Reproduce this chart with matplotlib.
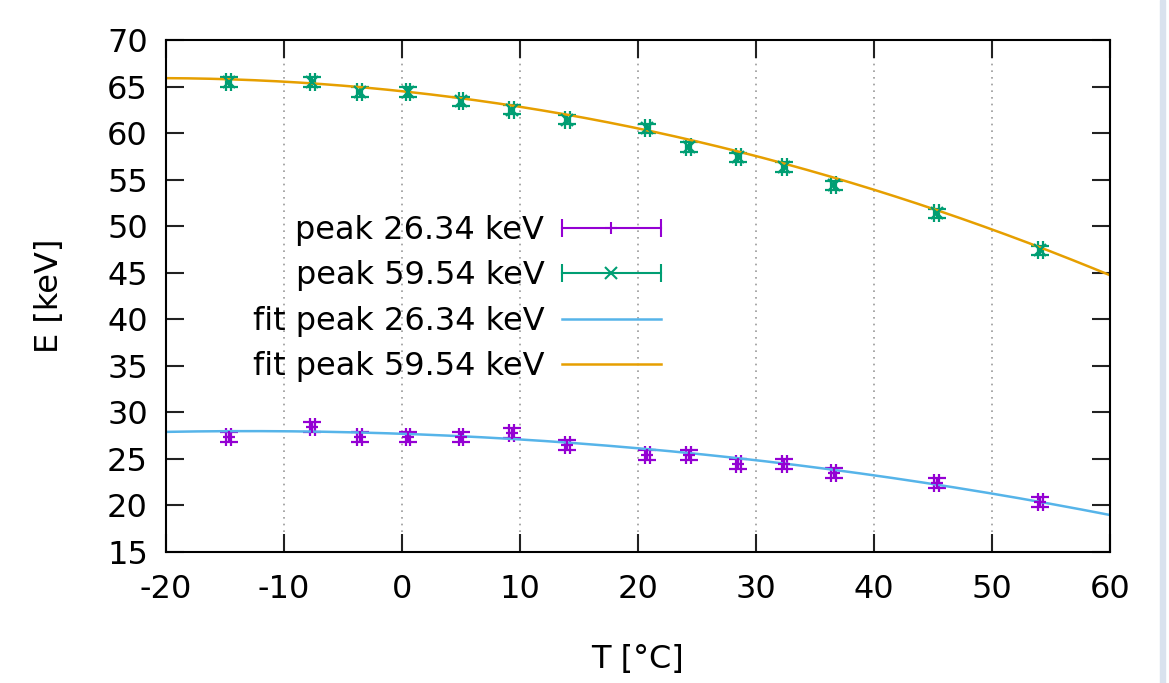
import matplotlib.pyplot as plt
import numpy as np
from matplotlib.lines import Line2D
from matplotlib.legend_handler import HandlerLine2D

plt.rcParams["axes.unicode_minus"] = False

# temperature of each measurement [deg C]
temp = [-14.7, -7.6, -3.6, 0.5, 5.0, 9.3, 14.0, 20.8, 24.3, 28.5, 32.4, 36.6, 45.3, 54.1]
# fitted peak positions [keV]
peak26 = [27.35, 28.43, 27.35, 27.35, 27.35, 27.78, 26.49, 25.42, 25.42, 24.45, 24.45, 23.49, 22.41, 20.37]
peak59 = [65.48, 65.48, 64.41, 64.41, 63.4, 62.5, 61.45, 60.5, 58.5, 57.4, 56.35, 54.4, 51.4, 47.4]
temp_err = 0.2
peak_err = 0.5

# quadratic fits E(T), highest power first
fit26 = [-0.00169, -0.044, 27.7]
fit59 = [-0.00324, -0.135, 64.5]

labels = ["peak 26.34 keV", "peak 59.54 keV", "fit peak 26.34 keV", "fit peak 59.54 keV"]

purple = "#9400d3"
green = "#009e73"
blue = "#56b4e9"
orange = "#e69f00"
fs = 23

fig = plt.figure(figsize=(11.69, 6.83), dpi=100)
ax = fig.add_axes([0.1420, 0.1918, 0.8075, 0.7496])

eb = dict(xerr=temp_err, yerr=peak_err, ms=9, mew=1.6, elinewidth=1.6,
          capsize=6.8, capthick=1.6, ls="none")
ax.errorbar(temp, peak26, fmt="+", color=purple, **eb)
ax.errorbar(temp, peak59, fmt="x", color=green, **eb)

tt = np.linspace(-20, 60, 300)
l26, = ax.plot(tt, np.polyval(fit26, tt), color=blue, lw=1.8)
l59, = ax.plot(tt, np.polyval(fit59, tt), color=orange, lw=1.8)

ax.set_xlim(-20, 60)
ax.set_ylim(15, 70)
ax.set_xticks(np.arange(-20, 61, 10))
ax.set_yticks(np.arange(15, 71, 5))
ax.grid(axis="x", color="#999999", lw=1.2, linestyle=(0, (1, 3)))
ax.tick_params(direction="in", top=True, right=True, length=13, width=1.5,
               labelsize=fs, color="#222222")
ax.tick_params(axis="x", pad=16)
ax.tick_params(axis="y", pad=13)
for s in ax.spines.values():
    s.set_linewidth(1.5)

ax.set_xlabel("T [°C]", fontsize=fs, labelpad=28)
ax.set_ylabel("E [keV]", fontsize=fs, labelpad=30)

# gnuplot style legend samples: horizontal bar with end caps and centre marker
cap26 = Line2D([], [], color=purple, lw=1.5, marker="|", ms=13.5, mew=1.5)
mk26 = Line2D([], [], color=purple, ls="none", marker="+", ms=8.5, mew=1.5)
cap59 = Line2D([], [], color=green, lw=1.5, marker="|", ms=13.5, mew=1.5)
mk59 = Line2D([], [], color=green, ls="none", marker="x", ms=8.5, mew=1.5)
hmap = {cap26: HandlerLine2D(numpoints=2, marker_pad=0),
        cap59: HandlerLine2D(numpoints=2, marker_pad=0),
        mk26: HandlerLine2D(numpoints=1),
        mk59: HandlerLine2D(numpoints=1)}
ax.legend([(cap26, mk26), (cap59, mk59), l26, l59], labels, handler_map=hmap,
          loc="center", bbox_to_anchor=(0.308, 0.495), frameon=False,
          markerfirst=False, handlelength=3.1, handletextpad=0.55,
          labelspacing=0.45, fontsize=fs, borderpad=0, borderaxespad=0)

# pale frame edge on the right of the screenshot
fig.patches.append(plt.Rectangle((0.9923, 0), 0.0045, 1, transform=fig.transFigure,
                                 color="#d9e2ee", zorder=0))

fig.savefig("out.png", dpi=100)
